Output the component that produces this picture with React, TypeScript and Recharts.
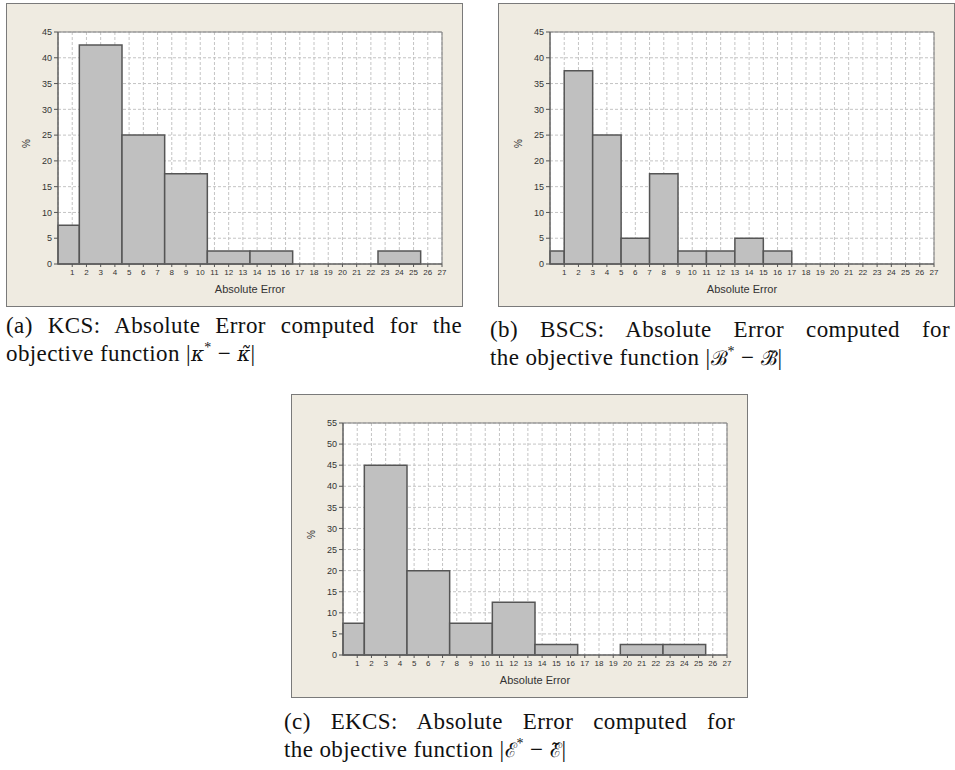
import { ComposedChart, Line, XAxis, YAxis, CartesianGrid, ReferenceArea, Label } from 'recharts';

// tick labels
const xTicks = [1, 2, 3, 4, 5, 6, 7, 8, 9, 10, 11, 12, 13, 14, 15, 16, 17, 18, 19, 20, 21, 22, 23, 24, 25, 26, 27];
const yTicks45 = [0, 5, 10, 15, 20, 25, 30, 35, 40, 45];
const yTicks55 = [0, 5, 10, 15, 20, 25, 30, 35, 40, 45, 50, 55];

// (a) KCS
const edgesKCS = [0, 1.5, 4.5, 7.5, 10.5, 13.5, 16.5, 19.5, 22.5, 25.5];
const percentKCS = [7.5, 42.5, 25, 17.5, 2.5, 2.5, 0, 0, 2.5];

// (b) BSCS
const edgesBSCS = [0, 1, 3, 5, 7, 9, 11, 13, 15, 17];
const percentBSCS = [2.5, 37.5, 25, 5, 17.5, 2.5, 2.5, 5, 2.5];

// (c) EKCS
const edgesEKCS = [0, 1.5, 4.5, 7.5, 10.5, 13.5, 16.5, 19.5, 22.5, 25.5];
const percentEKCS = [7.5, 45, 20, 7.5, 12.5, 2.5, 0, 2.5, 2.5];

interface Bin {
  lo: number;
  hi: number;
  mid: number;
  value: number;
}

function toBins(edges: number[], values: number[]): Bin[] {
  return values.map((v, i) => ({ lo: edges[i], hi: edges[i + 1], mid: (edges[i] + edges[i + 1]) / 2, value: v }));
}

const tickFont = { fontSize: 8, fill: '#333', fontFamily: 'Liberation Sans' };

function Histogram({ bins, yMax, yTicks }: { bins: Bin[]; yMax: number; yTicks: number[] }) {
  return (
    <ComposedChart width={455} height={302} data={bins} margin={{ top: 28, right: 20, bottom: 0, left: 0 }}>
      <CartesianGrid fill="#fff" stroke="#c4c4c4" strokeDasharray="3 2" />
      <XAxis
        type="number"
        dataKey="mid"
        domain={[0, 27]}
        ticks={xTicks}
        interval={0}
        allowDataOverflow
        height={42}
        tickSize={3}
        tickMargin={2}
        stroke="#555"
        tick={tickFont}
      >
        <Label value="Absolute Error" position="insideBottom" offset={13} fontSize={11} fill="#333" fontFamily="Liberation Sans" />
      </XAxis>
      <YAxis
        type="number"
        domain={[0, yMax]}
        ticks={yTicks}
        interval={0}
        allowDataOverflow
        width={51}
        tickSize={4}
        tickMargin={2}
        stroke="#555"
        tick={{ ...tickFont, fontSize: 9 }}
      >
        <Label value="%" angle={-90} position="insideLeft" offset={19} fontSize={10} fill="#333" fontFamily="Liberation Sans" />
      </YAxis>
      {bins
        .filter((b) => b.value > 0)
        .map((b) => (
          <ReferenceArea
            key={b.lo}
            x1={b.lo}
            x2={b.hi}
            y1={0}
            y2={b.value}
            fill="#c0c0c0"
            fillOpacity={1}
            stroke="#555"
            strokeWidth={1.5}
            ifOverflow="visible"
          />
        ))}
      <ReferenceArea x1={0} x2={27} y1={0} y2={yMax} fill="none" fillOpacity={0} stroke="#7a7a7a" strokeWidth={1} />
      <Line dataKey="value" stroke="none" dot={false} activeDot={false} isAnimationActive={false} legendType="none" />
    </ComposedChart>
  );
}

function Panel({ left, top, children }: { left: number; top: number; children: any }) {
  return (
    <div
      style={{
        position: 'absolute',
        left,
        top,
        width: 455,
        height: 302,
        background: '#efebe1',
        outline: '1px solid #7a7a7a',
      }}
    >
      {children}
    </div>
  );
}

const capFont = {
  fontFamily: '"Liberation Serif", serif',
  fontSize: 23,
  letterSpacing: 0.4,
  lineHeight: '28px',
  color: '#111',
};

const mathFont = { fontFamily: '"DejaVu Serif", serif', fontSize: 20, letterSpacing: 0 };

const star = <sup style={{ fontSize: 14, lineHeight: 0 }}>*</sup>;

function Caption({ left, top, width, first, second }: { left: number; top: number; width: number; first: string; second: any }) {
  return (
    <div style={{ position: 'absolute', left, top, width, ...capFont }}>
      <div style={{ textAlign: 'justify', textAlignLast: 'justify', whiteSpace: 'nowrap' }}>{first}</div>
      <div style={{ whiteSpace: 'nowrap' }}>{second}</div>
    </div>
  );
}

export default function App() {
  return (
    <div style={{ position: 'absolute', left: 0, top: 0, width: 955, height: 770, background: '#fff', overflow: 'hidden' }}>
      <Panel left={7} top={4}>
        <Histogram bins={toBins(edgesKCS, percentKCS)} yMax={45} yTicks={yTicks45} />
      </Panel>
      <Panel left={499} top={4}>
        <Histogram bins={toBins(edgesBSCS, percentBSCS)} yMax={45} yTicks={yTicks45} />
      </Panel>
      <Panel left={292} top={395}>
        <Histogram bins={toBins(edgesEKCS, percentEKCS)} yMax={55} yTicks={yTicks55} />
      </Panel>
      <Caption
        left={6}
        top={312}
        width={456}
        first="(a) KCS: Absolute Error computed for the"
        second={
          <span>
            objective function |<i style={mathFont}>κ</i>
            {star} − <i style={mathFont}>{'κ\u0303'}</i>|
          </span>
        }
      />
      <Caption
        left={490}
        top={316}
        width={460}
        first="(b) BSCS: Absolute Error computed for"
        second={
          <span>
            the objective function |<span style={mathFont}>ℬ</span>
            {star} − <span style={mathFont}>{'ℬ\u0303'}</span>|
          </span>
        }
      />
      <Caption
        left={284}
        top={708}
        width={451}
        first="(c) EKCS: Absolute Error computed for"
        second={
          <span>
            the objective function |<span style={mathFont}>ℰ</span>
            {star} − <span style={mathFont}>{'ℰ\u0303'}</span>|
          </span>
        }
      />
    </div>
  );
}
